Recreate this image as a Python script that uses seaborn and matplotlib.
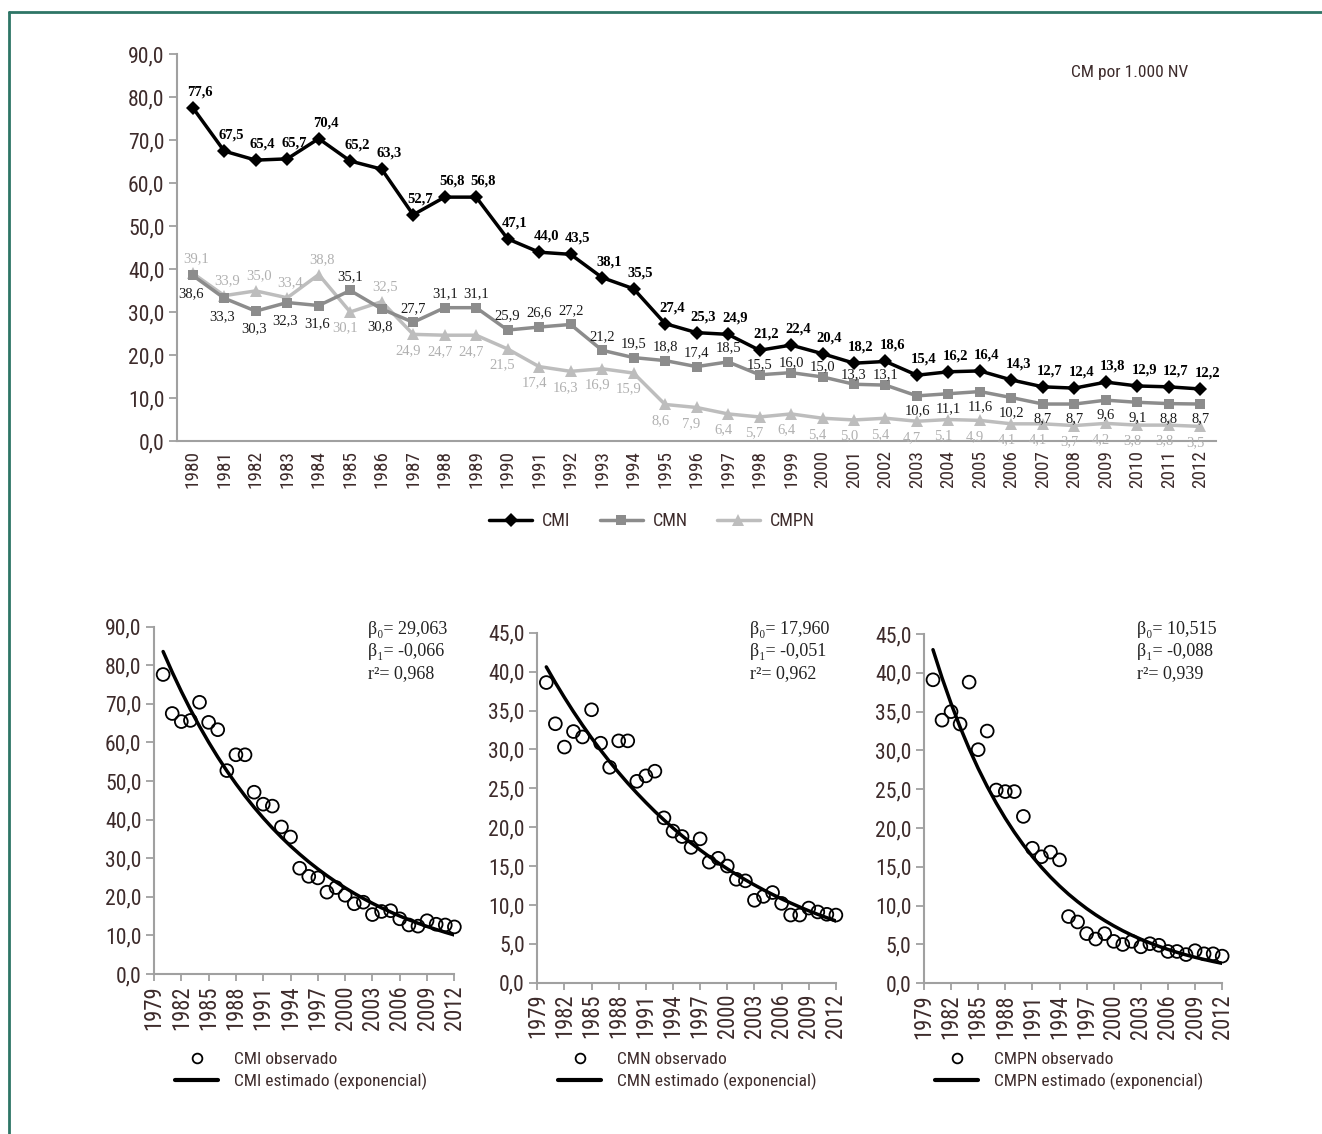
import numpy as np
import pandas as pd
import matplotlib.pyplot as plt
import matplotlib.font_manager as fm
import seaborn as sns
from matplotlib.lines import Line2D
from matplotlib.ticker import FuncFormatter, MultipleLocator

# datos
years = list(range(1980, 2013))
cmi = [77.6, 67.5, 65.4, 65.7, 70.4, 65.2, 63.3, 52.7, 56.8, 56.8, 47.1, 44.0, 43.5,
       38.1, 35.5, 27.4, 25.3, 24.9, 21.2, 22.4, 20.4, 18.2, 18.6, 15.4, 16.2, 16.4,
       14.3, 12.7, 12.4, 13.8, 12.9, 12.7, 12.2]
cmn = [38.6, 33.3, 30.3, 32.3, 31.6, 35.1, 30.8, 27.7, 31.1, 31.1, 25.9, 26.6, 27.2,
       21.2, 19.5, 18.8, 17.4, 18.5, 15.5, 16.0, 15.0, 13.3, 13.1, 10.6, 11.1, 11.6,
       10.2, 8.7, 8.7, 9.6, 9.1, 8.8, 8.7]
cmpn = [39.1, 33.9, 35.0, 33.4, 38.8, 30.1, 32.5, 24.9, 24.7, 24.7, 21.5, 17.4, 16.3,
        16.9, 15.9, 8.6, 7.9, 6.4, 5.7, 6.4, 5.4, 5.0, 5.4, 4.7, 5.1, 4.9,
        4.1, 4.1, 3.7, 4.2, 3.8, 3.8, 3.5]

# curvas estimadas (exponencial)
cmi_est = [83.55, 78.21, 73.22, 68.54, 64.17, 60.07, 56.23, 52.64, 49.28, 46.13, 43.18,
           40.43, 37.84, 35.43, 33.16, 31.05, 29.06, 27.21, 25.47, 23.84, 22.32, 20.89,
           19.56, 18.31, 17.14, 16.05, 15.02, 14.06, 13.16, 12.32, 11.54, 10.80, 10.11]
cmn_est = [40.61, 38.59, 36.68, 34.85, 33.12, 31.47, 29.91, 28.42, 27.01, 25.66, 24.39,
           23.18, 22.02, 20.93, 19.89, 18.90, 17.96, 17.07, 16.22, 15.41, 14.65, 13.92,
           13.23, 12.57, 11.94, 11.35, 10.78, 10.25, 9.74, 9.25, 8.79, 8.36, 7.94]
cmpn_est = [42.98, 39.36, 36.05, 33.01, 30.23, 27.68, 25.35, 23.22, 21.26, 19.47, 17.83,
            16.33, 14.95, 13.69, 12.54, 11.48, 10.52, 9.63, 8.82, 8.08, 7.40, 6.77,
            6.20, 5.68, 5.20, 4.76, 4.36, 3.99, 3.66, 3.35, 3.07, 2.81, 2.57]

series_names = ['CMI', 'CMN', 'CMPN']
beta0 = ['29,063', '17,960', '10,515']
beta1 = ['-0,066', '-0,051', '-0,088']
r2 = ['0,968', '0,962', '0,939']

sns.set_style('white')

# fuente estrecha si existe
avail = {f.name for f in fm.fontManager.ttflist}
narrow_name = next((n for n in ['Liberation Sans Narrow', 'Arial Narrow', 'Roboto Condensed',
                                'Open Sans Condensed', 'DejaVu Sans Condensed'] if n in avail), None)
cond = [f.name for f in fm.fontManager.ttflist
        if f.stretch in ('condensed', 'semi-condensed') and 'Sans' in f.name and 'Mono' not in f.name]
if narrow_name:
    plt.rcParams['font.family'] = [narrow_name, 'DejaVu Sans']
    fs = 12.5
elif cond:
    plt.rcParams['font.family'] = [cond[0], 'DejaVu Sans']
    plt.rcParams['font.stretch'] = 'condensed'
    fs = 11.5
else:
    plt.rcParams['font.family'] = ['Liberation Sans', 'DejaVu Sans']
    fs = 11.5
serif = ['Liberation Serif', 'DejaVu Serif']
txt_col = '#3d2b2b'
ax_col = '#a0a0a0'

fig = plt.figure(figsize=(13.22, 11.34), dpi=100)

fmt = FuncFormatter(lambda v, p: f'{v:.1f}'.replace('.', ','))


def style_axis(ax, ysize, xsize):
    sns.despine(ax=ax)
    for s in ['left', 'bottom']:
        ax.spines[s].set_color(ax_col)
        ax.spines[s].set_linewidth(1.5)
    ax.tick_params(axis='y', colors=ax_col, labelcolor=txt_col, labelsize=ysize,
                   length=6, width=1.3, left=True, pad=3)
    ax.tick_params(axis='x', colors=ax_col, labelcolor=txt_col, labelsize=xsize,
                   width=1.3, bottom=True)
    ax.yaxis.set_major_formatter(fmt)
    ax.set_xlabel('')
    ax.set_ylabel('')
    ax.grid(False)


def lab(v):
    return f'{v:.1f}'.replace('.', ',')


# grafico superior
df = pd.DataFrame({
    'year': years * 3,
    'value': cmi + cmn + cmpn,
    'serie': [n for n in series_names for _ in years],
})
colors = {'CMI': '#000000', 'CMN': '#8c8c8c', 'CMPN': '#bdbdbd'}
markers = {'CMI': 'D', 'CMN': 's', 'CMPN': '^'}
msizes = {'CMI': 7, 'CMN': 7.5, 'CMPN': 9}

ax = fig.add_axes([0.1339, 0.6107, 0.786, 0.3414])
for name in ['CMPN', 'CMN', 'CMI']:
    sub = df[df['serie'] == name]
    sns.lineplot(data=sub, x='year', y='value', ax=ax, color=colors[name],
                 marker=markers[name], markersize=msizes[name], markeredgewidth=0,
                 linewidth=2.5, legend=False)

ax.set_xlim(1979.5, 2012.5)
ax.set_ylim(0, 90)
ax.yaxis.set_major_locator(MultipleLocator(10))
style_axis(ax, fs * 1.25, fs * 1.1)
ax.set_xticks(years)
ax.set_xticklabels([str(y) for y in years], rotation=90)
ax.tick_params(axis='x', which='major', length=0, pad=6)
ax.set_xticks(np.arange(1979.5, 2013, 1), minor=True)
ax.tick_params(axis='x', which='minor', length=6, width=1.3, colors=ax_col)

for i, (x, v) in enumerate(zip(years, cmi)):
    ax.annotate(lab(v), (x, v), xytext=(7, 16), textcoords='offset pixels',
                fontsize=10.5, fontweight='bold', family=serif, color='black',
                ha='center', va='center')
for i, (x, v) in enumerate(zip(years, cmn)):
    if i <= 4 or i == 6:
        off = (-2, -18)
    elif i >= 23:
        off = (0, -15)
    elif 18 <= i <= 22:
        off = (0, 10)
    else:
        off = (0, 14)
    ax.annotate(lab(v), (x, v), xytext=off, textcoords='offset pixels',
                fontsize=10.5, family=serif, color='#1a1a1a', ha='center', va='center')
for i, (x, v) in enumerate(zip(years, cmpn)):
    off = (3, 15) if (i <= 4 or i == 6) else (-5, -16)
    ax.annotate(lab(v), (x, v), xytext=off, textcoords='offset pixels',
                fontsize=10.5, family=serif, color='#b0b0b0', ha='center', va='center',
                annotation_clip=False)

fig.text(1130 / 1322, 1 - 72 / 1134, 'CM por 1.000 NV', fontsize=fs, color=txt_col,
         ha='center', va='center')

handles = [Line2D([], [], color=colors[n], marker=markers[n], markersize=msizes[n],
                  markeredgewidth=0, linewidth=2.5) for n in series_names]
fig.legend(handles, series_names, loc='center', bbox_to_anchor=(652 / 1322, 1 - 521 / 1134),
           ncol=3, frameon=False, fontsize=fs + 0.5, handlelength=2.4, handletextpad=0.55,
           columnspacing=1.6, labelcolor=txt_col)

# graficos inferiores
panels = [
    ([0.1165, 0.1411, 0.2272, 0.3063], cmi, cmi_est, 90, 10, 368, 175),
    ([0.4064, 0.1334, 0.2259, 0.3086], cmn, cmn_est, 45, 5, 750, 558),
    ([0.6989, 0.1329, 0.2256, 0.3080], cmpn, cmpn_est, 45, 5, 1137, 935),
]
for k, (pos, obs, est, ymax, step, tx, lx) in enumerate(panels):
    a = fig.add_axes(pos)
    sns.lineplot(x=years, y=est, ax=a, color='black', linewidth=2.5, legend=False)
    sns.scatterplot(x=years, y=obs, ax=a, s=85, facecolor='none', edgecolor='black',
                    linewidth=1.3, legend=False, clip_on=False, zorder=3)
    a.set_xlim(1979, 2012)
    a.set_ylim(0, ymax)
    a.yaxis.set_major_locator(MultipleLocator(step))
    style_axis(a, fs * 1.25, fs * 1.3)
    xt = list(range(1979, 2013, 3))
    a.set_xticks(xt)
    a.set_xticklabels([str(y) for y in xt], rotation=90)
    a.tick_params(axis='x', length=5, pad=3)

    fig.text(tx / 1322, 1 - 630 / 1134, '\u03b2\u2080= ' + beta0[k], fontsize=13,
             family=serif, color='#222222', va='center')
    fig.text(tx / 1322, 1 - 652 / 1134, '\u03b2\u2081= ' + beta1[k], fontsize=13,
             family=serif, color='#222222', va='center')
    fig.text(tx / 1322, 1 - 674 / 1134, 'r\u00b2= ' + r2[k], fontsize=13,
             family=serif, color='#222222', va='center')

    h = [Line2D([], [], linestyle='none', marker='o', markersize=7, markerfacecolor='none',
                markeredgecolor='black', markeredgewidth=1.3),
         Line2D([], [], color='black', linewidth=3)]
    labels = [series_names[k] + ' observado', series_names[k] + ' estimado (exponencial)']
    fig.legend(h, labels, loc='upper left', bbox_to_anchor=(lx / 1322, 1 - 1052 / 1134),
               frameon=False, fontsize=fs, handlelength=2.5, handletextpad=0.9,
               labelspacing=0.3, borderpad=0, borderaxespad=0, labelcolor=txt_col)

# marco
fig.add_artist(Line2D([9 / 1322, 9 / 1322], [0, 1 - 12 / 1134], color='#2e7566',
                      linewidth=2, transform=fig.transFigure))
fig.add_artist(Line2D([9 / 1322, 1], [1 - 12 / 1134, 1 - 12 / 1134], color='#2e7566',
                      linewidth=2, transform=fig.transFigure))

fig.savefig('out.png', dpi=100)
